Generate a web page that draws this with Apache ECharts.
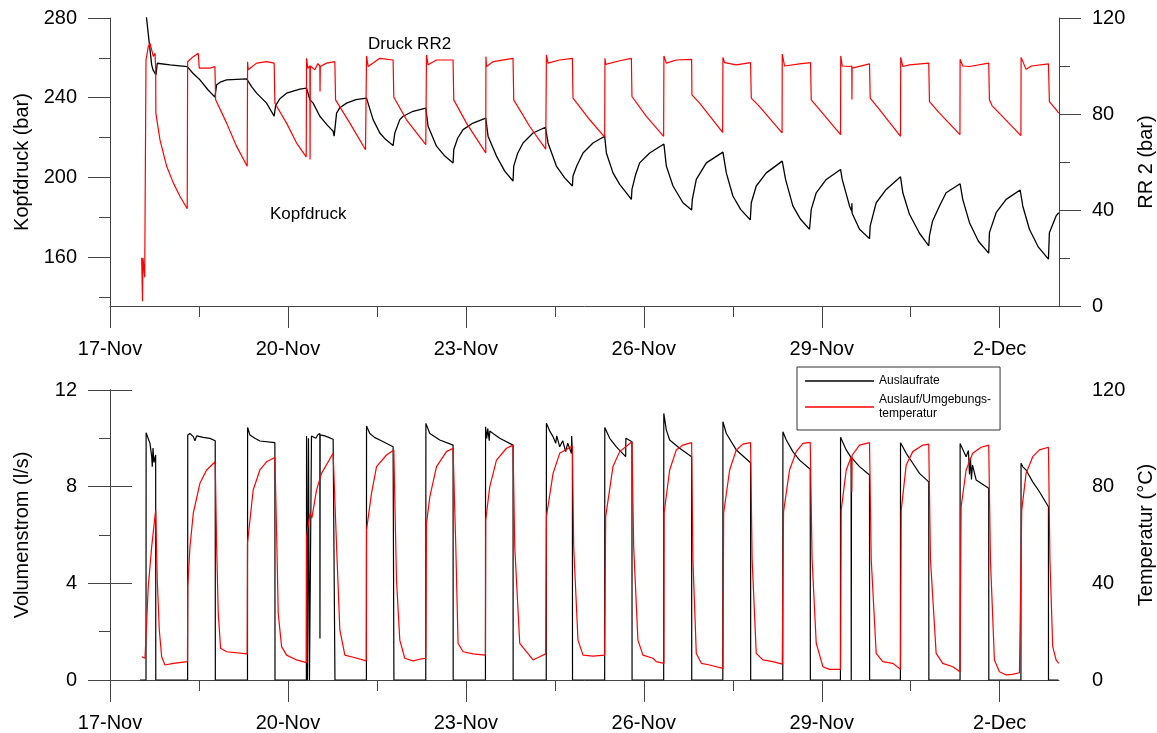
<!DOCTYPE html>
<html>
<head>
<meta charset="utf-8">
<script src="https://cdn.jsdelivr.net/npm/echarts@6/dist/echarts.min.js"></script>
<style>
html,body{margin:0;padding:0;background:#fff;}
#chart{width:1157px;height:733px;}
</style>
</head>
<body>
<div id="chart"></div>
<script>
// x values: days since 17-Nov 00:00
var xTickLabels = ['17-Nov', '20-Nov', '23-Nov', '26-Nov', '29-Nov', '2-Dec'];
var xMajorTicks = [0, 3, 6, 9, 12, 15];
var xMinorTicks = [1.5, 4.5, 7.5, 10.5, 13.5];
var kopfMajorTicks = [160, 200, 240, 280];
var kopfMinorTicks = [140, 180, 220, 260];

// Kopfdruck (bar) - top panel, left axis
var kopfdruck = [
[0.605,285],[0.612,281],[0.703,256.5],[0.725,254],[0.775,251.5],[0.797,257.3],[1.011,256.5],[1.302,255.6],[1.398,252.3],[1.516,249],[1.651,244],[1.769,240.3],[1.798,246.5],[1.870,248],[1.966,249],[2.303,249.5],[2.320,249],[2.393,245.3],[2.472,242.3],[2.640,237.3],[2.768,230.7],[2.792,236],[2.864,239.5],[2.977,242.3],[3.201,244.3],[3.314,244.8],[3.370,239],[3.425,237.3],[3.538,230.7],[3.656,226.5],[3.762,223.2],[3.779,220.7],[3.820,232.3],[3.875,235],[3.988,237.3],[4.145,239],[4.325,239.8],[4.436,229],[4.549,222.3],[4.650,219],[4.773,216],[4.802,222.3],[4.886,229],[4.942,230.7],[5.110,233.2],[5.324,234.8],[5.363,225.7],[5.505,215.7],[5.645,210.7],[5.784,207.3],[5.796,214],[5.863,219.8],[5.953,224],[6.121,227.3],[6.335,229.8],[6.374,220.7],[6.516,210.7],[6.655,203.2],[6.795,198.2],[6.807,205.7],[6.875,212.3],[6.964,217.3],[7.132,222.3],[7.341,225.2],[7.385,217.3],[7.526,205.7],[7.666,199.8],[7.796,195.7],[7.806,200.7],[7.869,205.7],[7.975,212.3],[8.143,217.3],[8.340,220.7],[8.369,212.3],[8.480,202.3],[8.593,196.5],[8.706,192.3],[8.790,189],[8.800,194],[8.863,201.5],[8.930,207.3],[9.099,212.3],[9.339,216.8],[9.380,205.7],[9.492,195.7],[9.660,187.3],[9.806,183.7],[9.818,189],[9.885,199],[10.054,207.3],[10.334,212.7],[10.391,202.3],[10.502,190.7],[10.632,184],[10.795,178.7],[10.812,187.3],[10.896,195.7],[11.065,202.3],[11.334,208.2],[11.390,199],[11.513,185.7],[11.643,179],[11.794,174],[11.823,184],[11.907,192.3],[12.076,199],[12.317,204],[12.345,199],[12.468,185.7],[12.505,183],[12.508,187],[12.512,182],[12.637,174],[12.805,169.3],[12.817,175.7],[12.918,187.3],[13.087,194],[13.328,200.3],[13.367,192.3],[13.479,181.5],[13.648,172],[13.804,165.7],[13.816,170.7],[13.867,178],[13.985,185.7],[14.097,192.3],[14.333,196.8],[14.377,189],[14.491,177.3],[14.642,168],[14.815,162],[14.827,172.3],[14.940,182.3],[15.109,189],[15.345,193.7],[15.389,185.7],[15.501,174],[15.653,165],[15.822,159],[15.838,172.3],[15.951,180.7],[15.995,182.3]
];

// Druck RR2 (bar) - top panel, right axis
var druckRR2 = [
[0.534,20.1],[0.545,20.1],[0.548,2],[0.553,2],[0.556,20],[0.572,20],[0.585,12],[0.603,11.8],[0.607,102.5],[0.645,108],[0.674,109.5],[0.703,106.7],[0.730,104],[0.758,105.3],[0.770,99],[0.773,80.4],[0.842,69.3],[0.955,58.2],[1.067,51.3],[1.179,45.7],[1.302,40.5],[1.309,101.8],[1.404,103.9],[1.488,105.3],[1.505,99.1],[1.685,99.1],[1.769,99.8],[1.781,85.9],[1.966,76.2],[2.135,66.5],[2.313,58.2],[2.320,101.8],[2.330,98.4],[2.472,101.2],[2.640,101.8],[2.768,101.2],[2.780,84.5],[2.977,76.2],[3.146,67.9],[3.308,62.1],[3.314,103.2],[3.336,99],[3.370,100],[3.373,61],[3.378,100],[3.454,98.4],[3.504,101],[3.538,100],[3.541,89.4],[3.546,99.8],[3.651,101.2],[3.791,101.8],[3.803,85.9],[4.044,76.2],[4.308,65.1],[4.325,104.2],[4.352,99.8],[4.549,103.2],[4.773,102.5],[4.785,87],[4.999,77.6],[5.324,67.2],[5.336,104.6],[5.363,100.5],[5.505,102.5],[5.784,102.5],[5.796,85.9],[6.010,76.2],[6.335,63.8],[6.338,103.9],[6.347,99.8],[6.458,101.8],[6.795,103.2],[6.807,85.9],[7.077,74.8],[7.346,65.4],[7.358,104.6],[7.385,101.2],[7.582,102.5],[7.796,103.2],[7.806,86.6],[8.088,77.6],[8.340,70.4],[8.345,103.2],[8.357,100.7],[8.593,102.2],[8.790,103.2],[8.800,87.3],[9.043,79],[9.334,70.7],[9.339,104.2],[9.380,101.2],[9.548,102.5],[9.806,102.8],[9.811,88],[9.941,84.5],[10.329,72.3],[10.334,103.6],[10.362,101.4],[10.559,100.5],[10.800,101.4],[10.812,86.6],[10.952,83.1],[11.331,72.1],[11.334,105],[11.373,100],[11.626,100.9],[11.811,101.4],[11.823,85.9],[11.963,81.8],[12.317,71.4],[12.320,104.2],[12.345,100],[12.468,99.8],[12.507,100],[12.509,86],[12.512,99.1],[12.805,100.9],[12.817,86.6],[12.974,81.8],[13.328,70.7],[13.331,103.6],[13.367,99.8],[13.479,100.5],[13.804,101.2],[13.816,85.2],[13.985,80.4],[14.330,71.4],[14.333,102.8],[14.377,100],[14.491,99.8],[14.815,101.2],[14.827,85.9],[14.870,83.5],[15.358,71],[15.361,103.6],[15.445,98.6],[15.535,100],[15.822,100.9],[15.838,85.2],[15.951,81.8],[15.995,80.4]
];

// Auslaufrate (l/s) - bottom panel, left axis
var auslaufrate = [
[0.505,0],[0.607,0],[0.609,10.23],[0.674,9.79],[0.703,9.24],[0.713,8.83],[0.725,9.6],[0.741,9.0],[0.770,9.31],[0.772,0],[1.309,0],[1.311,10.14],[1.348,10.2],[1.404,10.07],[1.432,9.9],[1.461,10.1],[1.572,10.04],[1.685,10],[1.774,9.9],[1.776,0],[2.318,0],[2.320,10.45],[2.359,10.14],[2.443,10.0],[2.527,9.89],[2.780,9.82],[2.782,0],[3.311,0],[3.314,10.1],[3.327,10.1],[3.329,0],[3.344,0],[3.346,10],[3.361,10],[3.363,0],[3.395,0],[3.397,10.1],[3.425,10.14],[3.471,10.0],[3.504,10.15],[3.538,10.2],[3.540,1.72],[3.543,10.14],[3.622,10.1],[3.762,9.96],[3.791,9.93],[3.793,0],[4.323,0],[4.325,10.51],[4.380,10.2],[4.465,10.03],[4.549,9.93],[4.773,9.65],[4.785,9.65],[4.787,0],[5.324,0],[5.326,10.62],[5.392,10.2],[5.560,9.93],[5.784,9.72],[5.786,0],[6.330,0],[6.332,10.48],[6.352,10.0],[6.369,10.4],[6.394,9.9],[6.403,10.3],[6.458,10.2],[6.571,10.0],[6.795,9.72],[6.797,0],[7.355,0],[7.358,10.62],[7.414,10.3],[7.470,10.07],[7.515,9.8],[7.532,10.1],[7.582,9.65],[7.633,9.9],[7.683,9.45],[7.717,9.8],[7.779,9.38],[7.784,10.1],[7.796,9.4],[7.798,0],[8.340,0],[8.342,10.45],[8.425,10.0],[8.537,9.65],[8.694,9.24],[8.698,10.0],[8.800,9.86],[8.802,0],[9.335,0],[9.337,11.03],[9.380,10.34],[9.436,9.93],[9.604,9.59],[9.806,9.24],[9.808,0],[10.332,0],[10.334,10.69],[10.391,10.2],[10.559,9.52],[10.800,8.99],[10.802,0],[11.343,0],[11.345,10.27],[11.402,9.93],[11.513,9.45],[11.626,9.1],[11.806,8.72],[11.808,0],[12.315,0],[12.317,10.04],[12.413,9.52],[12.495,9.2],[12.497,0],[12.500,0],[12.502,9.2],[12.637,8.83],[12.805,8.48],[12.807,0],[13.326,0],[13.328,9.82],[13.424,9.38],[13.535,8.97],[13.648,8.55],[13.804,8.2],[13.806,0],[14.332,0],[14.333,9.79],[14.434,9.24],[14.473,9.5],[14.491,8.5],[14.507,9.2],[14.524,8.3],[14.541,8.9],[14.603,8.28],[14.815,7.93],[14.817,0],[15.358,0],[15.360,8.97],[15.387,8.83],[15.445,8.69],[15.557,8.2],[15.670,7.79],[15.822,7.17],[15.823,0],[15.990,0]
];

// Auslauf/Umgebungstemperatur (°C) - bottom panel, right axis
var temperatur = [
[0.534,9.6],[0.590,9.0],[0.607,8.3],[0.645,38.6],[0.703,55.2],[0.770,70.3],[0.797,41.4],[0.831,20.7],[0.871,9.6],[0.927,6.2],[1.067,6.9],[1.306,7.6],[1.311,38.6],[1.348,55],[1.404,69],[1.516,81.4],[1.629,86.9],[1.774,90.3],[1.798,55.2],[1.825,27.6],[1.865,13.1],[1.966,11.7],[2.313,10.8],[2.318,56.6],[2.414,78.6],[2.527,86.9],[2.640,90.3],[2.780,92.1],[2.814,55],[2.836,27.6],[2.893,13.8],[2.977,10.3],[3.146,8.3],[3.311,7.2],[3.314,59.3],[3.370,69],[3.403,67],[3.482,78.6],[3.566,85.5],[3.762,93.8],[3.791,94.1],[3.820,55.2],[3.875,20.7],[3.960,10.3],[4.099,9.4],[4.321,7.9],[4.325,62.1],[4.409,77.2],[4.494,88.3],[4.662,93.1],[4.785,95.2],[4.830,41.4],[4.886,16.5],[4.970,9],[5.110,7.9],[5.223,8.6],[5.324,9],[5.336,64.8],[5.392,75.8],[5.505,88.3],[5.673,94.5],[5.784,95.9],[5.830,55.2],[5.868,15.2],[5.953,11.7],[6.121,10.8],[6.330,10.3],[6.335,66.2],[6.403,80],[6.516,91],[6.684,95.9],[6.795,97.2],[6.824,55.2],[6.908,15.2],[7.021,11.7],[7.132,8.3],[7.245,9.6],[7.346,10.8],[7.358,67.6],[7.470,85.5],[7.582,93.8],[7.796,96.8],[7.818,55],[7.890,16.5],[7.975,10.3],[8.143,9.9],[8.340,10.3],[8.357,67.6],[8.480,88.3],[8.593,94.5],[8.800,98.6],[8.829,55.2],[8.901,16.5],[8.985,10.3],[9.154,9],[9.211,7.6],[9.339,6.9],[9.342,69],[9.436,86.9],[9.548,95.2],[9.660,97.2],[9.806,98.2],[9.828,49.6],[9.885,11],[9.970,6.9],[10.110,6.2],[10.334,4.8],[10.346,69],[10.447,86.9],[10.559,95.2],[10.671,97.6],[10.800,98.2],[10.826,50],[10.896,11],[11.008,8.3],[11.176,7.6],[11.334,6.6],[11.356,69.6],[11.457,86.9],[11.570,94.5],[11.682,97.9],[11.806,98.3],[11.837,50],[11.907,15.2],[12.019,5.5],[12.131,4.4],[12.317,4.4],[12.328,70.3],[12.413,86.9],[12.497,92.4],[12.507,77.9],[12.512,93],[12.637,97.2],[12.805,98.2],[12.834,50],[12.918,11],[13.029,7.6],[13.198,6.9],[13.328,4.4],[13.340,70.3],[13.424,89],[13.535,94.5],[13.704,97.2],[13.804,97.6],[13.833,50],[13.929,11],[14.040,6.9],[14.209,5.5],[14.330,3.4],[14.350,71.7],[14.434,86.9],[14.545,93.8],[14.687,96.3],[14.815,97.2],[14.844,50],[14.911,8.3],[14.996,3.4],[15.109,2.1],[15.215,2.3],[15.333,3.0],[15.361,3.0],[15.372,70.3],[15.445,85.5],[15.557,92.4],[15.670,95.2],[15.822,96.3],[15.847,50],[15.894,13.8],[15.951,8.3],[15.995,6.9]
];

var FONT = 'Liberation Sans, Arial, sans-serif';
var AX = '#444';

function xMajor(gridIndex) {
  return {
    type: 'value', gridIndex: gridIndex, min: 0, max: 16, position: 'bottom',
    axisLine: { show: true, onZero: false, lineStyle: { color: AX, width: 1 } },
    axisTick: { show: true, customValues: xMajorTicks, length: 22, lineStyle: { color: AX } },
    axisLabel: { show: true, customValues: xMajorTicks, margin: 33, fontSize: 20, fontFamily: FONT, color: '#000',
      formatter: function (v) { var i = Math.round(v / 3); return xTickLabels[i] || ''; } },
    splitLine: { show: false }
  };
}
function xMinor(gridIndex) {
  return {
    type: 'value', gridIndex: gridIndex, min: 0, max: 16, position: 'bottom',
    axisLine: { show: false },
    axisTick: { show: true, customValues: xMinorTicks, length: 11, lineStyle: { color: AX } },
    axisLabel: { show: false },
    splitLine: { show: false }
  };
}

var nameStyle = { fontSize: 20, fontFamily: FONT, color: '#000' };

var option = {
  animation: false,
  backgroundColor: '#fff',
  textStyle: { fontFamily: FONT },
  grid: [
    { left: 110, right: 98, top: 18, height: 288, containLabel: false, outerBoundsMode: 'none' },
    { left: 110, right: 98, top: 390, height: 290, containLabel: false, outerBoundsMode: 'none' }
  ],
  xAxis: [xMajor(0), xMinor(0), xMajor(1), xMinor(1)],
  yAxis: [
    { // 0 Kopfdruck
      type: 'value', gridIndex: 0, position: 'left', min: 135.5, max: 280,
      name: 'Kopfdruck (bar)', nameLocation: 'middle', nameGap: 78, nameRotate: 90, nameTextStyle: nameStyle,
      axisLine: { show: true, lineStyle: { color: AX } },
      axisTick: { show: true, customValues: kopfMajorTicks, length: 22, lineStyle: { color: AX } },
      axisLabel: { customValues: kopfMajorTicks, margin: 33, fontSize: 20, fontFamily: FONT, color: '#000' },
      splitLine: { show: false }
    },
    { // 1 Kopfdruck minor ticks
      type: 'value', gridIndex: 0, position: 'left', min: 135.5, max: 280,
      axisLine: { show: false },
      axisTick: { show: true, customValues: kopfMinorTicks, length: 11, lineStyle: { color: AX } },
      axisLabel: { show: false }, splitLine: { show: false }
    },
    { // 2 RR2
      type: 'value', gridIndex: 0, position: 'right', min: 0, max: 120, interval: 40,
      name: 'RR 2 (bar)', nameLocation: 'middle', nameGap: 74, nameRotate: 90, nameTextStyle: nameStyle,
      axisLine: { show: true, lineStyle: { color: AX } },
      axisTick: { show: true, length: 22, lineStyle: { color: AX } },
      minorTick: { show: true, splitNumber: 2, length: 11, lineStyle: { color: AX } },
      axisLabel: { margin: 33, fontSize: 20, fontFamily: FONT, color: '#000' },
      splitLine: { show: false }
    },
    { // 3 Volumenstrom
      type: 'value', gridIndex: 1, position: 'left', min: 0, max: 12, interval: 4,
      name: 'Volumenstrom (l/s)', nameLocation: 'middle', nameGap: 78, nameRotate: 90, nameTextStyle: nameStyle,
      axisLine: { show: true, lineStyle: { color: AX } },
      axisTick: { show: true, length: 22, lineStyle: { color: AX } },
      minorTick: { show: true, splitNumber: 2, length: 11, lineStyle: { color: AX } },
      axisLabel: { margin: 33, fontSize: 20, fontFamily: FONT, color: '#000' },
      splitLine: { show: false }
    },
    { // 4 Temperatur
      type: 'value', gridIndex: 1, position: 'right', min: 0, max: 120, interval: 40,
      name: 'Temperatur (°C)', nameLocation: 'middle', nameGap: 74, nameRotate: 90, nameTextStyle: nameStyle,
      axisLine: { show: true, lineStyle: { color: AX } },
      axisTick: { show: true, length: 22, lineStyle: { color: AX } },
      axisLabel: { margin: 33, fontSize: 20, fontFamily: FONT, color: '#000' },
      splitLine: { show: false }
    }
  ],
  legend: {
    left: 797, top: 367, orient: 'vertical',
    borderColor: '#333', borderWidth: 1, borderRadius: 0,
    padding: [7, 9, 9, 8], itemGap: 5, itemWidth: 69, itemHeight: 1.5, icon: 'rect',
    textStyle: { fontSize: 12, fontFamily: FONT, color: '#000', lineHeight: 14 },
    data: ['Auslaufrate', 'Auslauf/Umgebungs-\ntemperatur']
  },
  graphic: [
    { type: 'text', x: 368, y: 44, style: { text: 'Druck RR2', font: '17px ' + FONT, fill: '#000', verticalAlign: 'middle' } },
    { type: 'text', x: 270, y: 214, style: { text: 'Kopfdruck', font: '17px ' + FONT, fill: '#000', verticalAlign: 'middle' } }
  ],
  series: [
    { name: 'Kopfdruck', type: 'line', xAxisIndex: 0, yAxisIndex: 0, data: kopfdruck, symbol: 'none', clip: true,
      lineStyle: { color: '#000', width: 1.3 }, itemStyle: { color: '#000' } },
    { name: 'Druck RR2', type: 'line', xAxisIndex: 0, yAxisIndex: 2, data: druckRR2, symbol: 'none', clip: true,
      lineStyle: { color: '#ff0000', width: 1.2 }, itemStyle: { color: '#ff0000' } },
    { name: 'Auslaufrate', type: 'line', xAxisIndex: 2, yAxisIndex: 3, data: auslaufrate, symbol: 'none', clip: true,
      lineStyle: { color: '#000', width: 1.2 }, itemStyle: { color: '#000' } },
    { name: 'Auslauf/Umgebungs-\ntemperatur', type: 'line', xAxisIndex: 2, yAxisIndex: 4, data: temperatur, symbol: 'none', clip: true,
      lineStyle: { color: '#ff0000', width: 1.2 }, itemStyle: { color: '#ff0000' } }
  ]
};

var chart = echarts.init(document.getElementById('chart'), null, { renderer: 'canvas' });
chart.setOption(option);
</script>
</body>
</html>
